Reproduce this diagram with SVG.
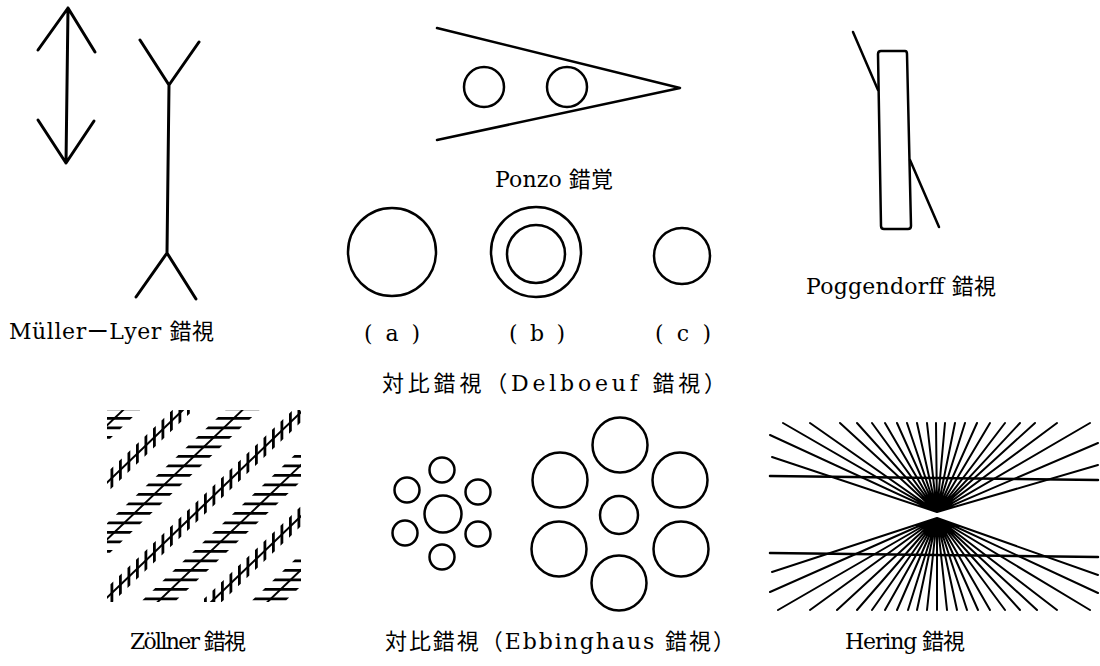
<svg xmlns="http://www.w3.org/2000/svg" width="1100" height="666" viewBox="0 0 1100 666">
<style>
.ln{fill:none;stroke:#000;stroke-linecap:round;stroke-linejoin:round}
.t{font-family:"DejaVu Serif","Noto Sans CJK JP",serif;font-size:22px;fill:#000}
</style>
<defs>
<clipPath id="zclip"><rect x="107" y="410" width="194" height="192"/></clipPath>
</defs>
<rect width="1100" height="666" fill="#fff"/>

<g id="muller-lyer">
<path class="ln" stroke-width="3" d="M38,50 L68,8 L95,52 M68,8 L66,163 M38,120 L66,163 L94,121"/>
<path class="ln" stroke-width="3" d="M140,40 L169,85 L199,42 M169,85 L167,253 M136,297 L167,253 L196,299"/>
<text class="t" x="9" y="339" textLength="205" lengthAdjust="spacing">MüllerーLyer 錯視</text>
</g>

<g id="ponzo">
<path class="ln" stroke-width="2.5" d="M437,28 L680,88 L437,140"/>
<circle class="ln" stroke-width="2.5" cx="484" cy="87" r="20"/>
<circle class="ln" stroke-width="2.5" cx="567" cy="87" r="20"/>
<text class="t" x="495" y="187" textLength="118" lengthAdjust="spacing">Ponzo 錯覚</text>
</g>

<g id="poggendorff">
<path class="ln" stroke-width="2.5" d="M881,51 L905,51 Q907,51 907,54 L911,226 Q911,229 908,229 L884,229 Q881,229 881,226 L878,54 Q878,51 881,51 Z"/>
<path class="ln" stroke-width="2.5" d="M853,32 L878,90 M910,160 L939,227"/>
<text class="t" x="806" y="294" textLength="190" lengthAdjust="spacing">Poggendorff 錯視</text>
</g>

<g id="delboeuf">
<circle class="ln" stroke-width="2.5" cx="392" cy="252" r="44"/>
<circle class="ln" stroke-width="2.5" cx="536" cy="252" r="45"/>
<circle class="ln" stroke-width="2.5" cx="536" cy="254" r="29"/>
<circle class="ln" stroke-width="2.5" cx="682" cy="256" r="28"/>
<text class="t" x="364" y="341" textLength="56" lengthAdjust="spacing">( a )</text>
<text class="t" x="509" y="341" textLength="56" lengthAdjust="spacing">( b )</text>
<text class="t" x="655" y="341" textLength="56" lengthAdjust="spacing">( c )</text>
<text class="t" x="382" y="391" textLength="344" lengthAdjust="spacing">対比錯視（Delboeuf 錯視）</text>
</g>

<g id="zollner">
<g clip-path="url(#zclip)" stroke="#000" fill="none">
<g transform="skewY(-43.7)">
<line x1="0" y1="584.8" x2="400" y2="584.8" stroke-width="2.8"/>
<line x1="0" y1="584.8" x2="400" y2="584.8" stroke-width="20" stroke-dasharray="2.8 5.7"/>
<line x1="0" y1="699.8" x2="400" y2="699.8" stroke-width="2.8"/>
<line x1="0" y1="699.8" x2="400" y2="699.8" stroke-width="20" stroke-dasharray="2.8 5.7"/>
<line x1="0" y1="803.8" x2="400" y2="803.8" stroke-width="2.8"/>
<line x1="0" y1="803.8" x2="400" y2="803.8" stroke-width="20" stroke-dasharray="2.8 5.7"/>
</g>
<g transform="skewX(-46.3)">
<line x1="552.2" y1="360" x2="552.2" y2="660" stroke-width="2.8"/>
<line x1="552.2" y1="360" x2="552.2" y2="660" stroke-width="34" stroke-dasharray="2.8 6.7"/>
<line x1="671.5" y1="360" x2="671.5" y2="660" stroke-width="2.8"/>
<line x1="671.5" y1="360" x2="671.5" y2="660" stroke-width="34" stroke-dasharray="2.8 6.7"/>
<line x1="787.6" y1="360" x2="787.6" y2="660" stroke-width="2.8"/>
<line x1="787.6" y1="360" x2="787.6" y2="660" stroke-width="34" stroke-dasharray="2.8 6.7"/>
<line x1="897.4" y1="360" x2="897.4" y2="660" stroke-width="2.8"/>
<line x1="897.4" y1="360" x2="897.4" y2="660" stroke-width="34" stroke-dasharray="2.8 6.7"/>
</g>
</g>
<text class="t" x="130" y="649" textLength="116" lengthAdjust="spacing">Zöllner 錯視</text>
</g>

<g id="ebbinghaus">
<g class="ln" stroke-width="2.5">
<circle cx="443" cy="514" r="18.5"/>
<circle cx="442" cy="470" r="12.5"/>
<circle cx="407" cy="490" r="12.5"/>
<circle cx="478" cy="492" r="12.5"/>
<circle cx="405" cy="533" r="12.5"/>
<circle cx="478" cy="534" r="12.5"/>
<circle cx="442" cy="557" r="12.5"/>
<circle cx="619" cy="515" r="19"/>
<circle cx="620" cy="445" r="27.5"/>
<circle cx="560" cy="480" r="27.5"/>
<circle cx="680" cy="480" r="27.5"/>
<circle cx="559" cy="549" r="27.5"/>
<circle cx="681" cy="549" r="27.5"/>
<circle cx="619" cy="583" r="27.5"/>
</g>
<text class="t" x="385" y="649" textLength="350" lengthAdjust="spacing">対比錯視（Ebbinghaus 錯視）</text>
</g>

<g id="hering">
<path class="ln" stroke-width="2" d="M937,512 L783,423 M937,512 L810,423 M937,512 L840,423 M937,512 L857,423 M937,512 L872,423 M937,512 L885,423 M937,512 L897,423 M937,512 L907,423 M937,512 L917,423 M937,512 L927,423 M937,512 L936,423 M937,512 L945,423 M937,512 L955,423 M937,512 L965,423 M937,512 L977,423 M937,512 L990,423 M937,512 L1005,423 M937,512 L1020,423 M937,512 L1035,423 M937,512 L1057,423 M937,512 L1090,423 M937,512 L770,435 M937,512 L772,457 M937,512 L1098,443 M937,512 L1098,465"/>
<path class="ln" stroke-width="2" d="M937,518 L778,610 M937,518 L810,610 M937,518 L837,610 M937,518 L857,610 M937,518 L872,610 M937,518 L885,610 M937,518 L897,610 M937,518 L908,610 M937,518 L917,610 M937,518 L927,610 M937,518 L937,610 M937,518 L947,610 M937,518 L957,610 M937,518 L967,610 M937,518 L978,610 M937,518 L990,610 M937,518 L1005,610 M937,518 L1020,610 M937,518 L1037,610 M937,518 L1057,610 M937,518 L1090,610 M937,518 L772,572 M937,518 L770,592 M937,518 L1098,575 M937,518 L1098,593"/>
<path class="ln" stroke-width="2.5" d="M770,476 L1098,480 M770,553 L1098,557"/>
<text class="t" x="845" y="649" textLength="120" lengthAdjust="spacing">Hering 錯視</text>
</g>
</svg>
